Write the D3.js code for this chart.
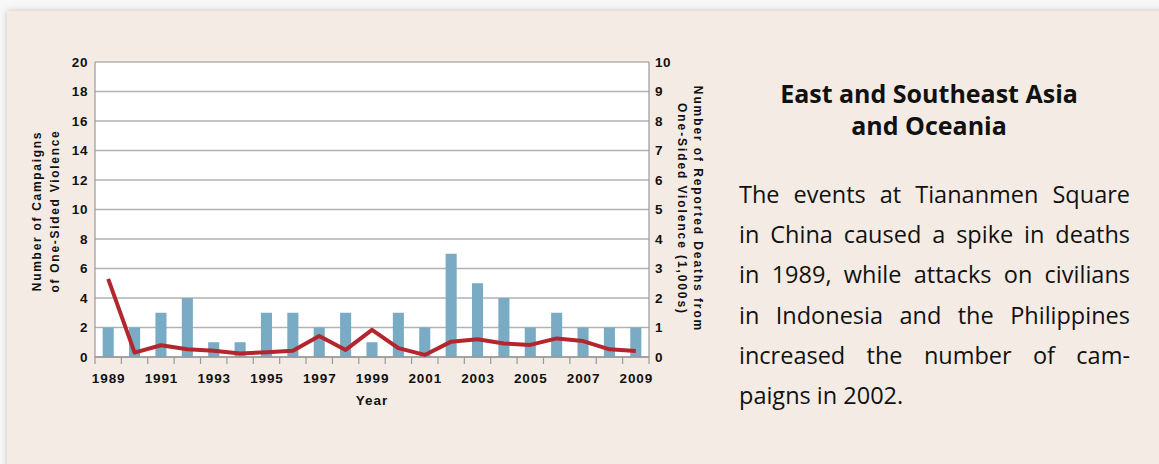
<!DOCTYPE html>
<html lang="en">
<head>
<meta charset="UTF-8">
<title>East and Southeast Asia and Oceania</title>
<script src="https://d3js.org/d3.v7.min.js"></script>
<style>
    html, body { margin: 0; padding: 0; }
    body { width: 1159px; height: 464px; background: #f7f7f7; position: relative; overflow: hidden; }
    .panel {
        position: absolute; left: 7px; top: 11px; width: 1200px; height: 500px;
        background: #f4ece4; box-shadow: 0 0 6px rgba(0,0,0,0.22);
    }
    #chart { position: absolute; left: 0; top: 0; }
    .title {
        position: absolute; left: 758px; top: 77px; width: 342px;
        font-family: "Open Sans", sans-serif; font-weight: bold; font-size: 25px;
        line-height: 32px; text-align: center; color: #111;
    }
    .body-text {
        position: absolute; left: 739px; top: 174px; width: 391px;
        font-family: "Open Sans", sans-serif; font-size: 23.5px; color: #111;
    }
    .body-text div { height: 40.2px; line-height: 40.2px; text-align: justify; text-align-last: justify; white-space: nowrap; }
    .body-text div.last { text-align: left; text-align-last: left; }
</style>
</head>
<body>
<div class="panel"></div>
<svg id="chart" width="1159" height="464"></svg>
<div class="title">East and Southeast Asia<br>and Oceania</div>
<div class="body-text" id="body-text"></div>
<script>
// data
const years = [1989, 1990, 1991, 1992, 1993, 1994, 1995, 1996, 1997, 1998, 1999,
               2000, 2001, 2002, 2003, 2004, 2005, 2006, 2007, 2008, 2009];
const campaigns = [2, 2, 3, 4, 1, 1, 3, 3, 2, 3, 1, 3, 2, 7, 5, 4, 2, 3, 2, 2, 2];
const deaths = [2.65, 0.15, 0.4, 0.26, 0.21, 0.12, 0.16, 0.21, 0.71, 0.24, 0.92,
                0.3, 0.07, 0.52, 0.6, 0.46, 0.41, 0.63, 0.54, 0.26, 0.2];
const leftTicks = [0, 2, 4, 6, 8, 10, 12, 14, 16, 18, 20];
const rightTicks = [0, 1, 2, 3, 4, 5, 6, 7, 8, 9, 10];
const yearLabels = [1989, 1991, 1993, 1995, 1997, 1999, 2001, 2003, 2005, 2007, 2009];
const bodyLines = [
    "The events at Tiananmen Square",
    "in China caused a spike in deaths",
    "in 1989, while attacks on civilians",
    "in Indonesia and the Philippines",
    "increased the number of cam-",
    "paigns in 2002."
];

const plot = { left: 95, right: 649, top: 62, bottom: 357 };
const chartFont = "'Liberation Sans', Arial, sans-serif";

const svg = d3.select("#chart");

const x = d3.scaleBand()
    .domain(years)
    .range([plot.left, plot.right])
    .padding(0);

const yLeft = d3.scaleLinear().domain([0, 20]).range([plot.bottom, plot.top]);
const yRight = d3.scaleLinear().domain([0, 10]).range([plot.bottom, plot.top]);

// plot background
svg.append("rect")
    .attr("x", plot.left).attr("y", plot.top)
    .attr("width", plot.right - plot.left).attr("height", plot.bottom - plot.top)
    .attr("fill", "#ffffff");

// gridlines
svg.append("g")
    .selectAll("line")
    .data(leftTicks)
    .enter()
    .append("line")
    .attr("x1", plot.left).attr("x2", plot.right)
    .attr("y1", d => yLeft(d)).attr("y2", d => yLeft(d))
    .attr("stroke", "#b2b2b2")
    .attr("stroke-width", 1.4);

// bars
const barW = x.bandwidth() * 0.42;
svg.append("g")
    .selectAll("rect")
    .data(years)
    .enter()
    .append("rect")
    .attr("x", d => x(d) + (x.bandwidth() - barW) / 2)
    .attr("y", (d, i) => yLeft(campaigns[i]))
    .attr("width", barW)
    .attr("height", (d, i) => plot.bottom - yLeft(campaigns[i]))
    .attr("fill", "#79abc4");

// frame lines
svg.append("line")
    .attr("x1", plot.left).attr("x2", plot.left)
    .attr("y1", plot.top).attr("y2", plot.bottom + 7)
    .attr("stroke", "#999").attr("stroke-width", 1.2);
svg.append("line")
    .attr("x1", plot.right).attr("x2", plot.right)
    .attr("y1", plot.top).attr("y2", plot.bottom + 7)
    .attr("stroke", "#999").attr("stroke-width", 1.2);
svg.append("line")
    .attr("x1", plot.left).attr("x2", plot.right)
    .attr("y1", plot.bottom).attr("y2", plot.bottom)
    .attr("stroke", "#999").attr("stroke-width", 1.4);

// bottom ticks at band edges
svg.append("g")
    .selectAll("line")
    .data(years.slice(1))
    .enter()
    .append("line")
    .attr("x1", d => x(d)).attr("x2", d => x(d))
    .attr("y1", plot.bottom).attr("y2", plot.bottom + 7)
    .attr("stroke", "#999").attr("stroke-width", 1.2);

// deaths line
const line = d3.line()
    .x((d, i) => x(years[i]) + x.bandwidth() / 2)
    .y(d => yRight(d));

svg.append("path")
    .datum(deaths)
    .attr("d", line)
    .attr("fill", "none")
    .attr("stroke", "#b3262e")
    .attr("stroke-width", 4)
    .attr("stroke-linejoin", "round");

// left axis labels
svg.append("g")
    .selectAll("text")
    .data(leftTicks)
    .enter()
    .append("text")
    .attr("x", 88)
    .attr("y", d => yLeft(d))
    .attr("dy", "0.36em")
    .attr("text-anchor", "end")
    .attr("font-family", chartFont)
    .attr("font-weight", "bold")
    .attr("font-size", 13.5)
    .attr("letter-spacing", 0.6)
    .attr("fill", "#111")
    .text(d => d);

// right axis labels
svg.append("g")
    .selectAll("text")
    .data(rightTicks)
    .enter()
    .append("text")
    .attr("x", 655)
    .attr("y", d => yRight(d))
    .attr("dy", "0.36em")
    .attr("font-family", chartFont)
    .attr("font-weight", "bold")
    .attr("font-size", 13.5)
    .attr("letter-spacing", 0.6)
    .attr("fill", "#111")
    .text(d => d);

// year labels
svg.append("g")
    .selectAll("text")
    .data(yearLabels)
    .enter()
    .append("text")
    .attr("x", d => x(d) + x.bandwidth() / 2 + 0.5)
    .attr("y", 383)
    .attr("text-anchor", "middle")
    .attr("font-family", chartFont)
    .attr("font-weight", "bold")
    .attr("font-size", 13.5)
    .attr("letter-spacing", 0.9)
    .attr("fill", "#111")
    .text(d => d);

// axis titles
svg.append("text")
    .attr("x", (plot.left + plot.right) / 2)
    .attr("y", 405)
    .attr("text-anchor", "middle")
    .attr("font-family", chartFont)
    .attr("font-weight", "bold")
    .attr("font-size", 13.5)
    .attr("letter-spacing", 1)
    .attr("fill", "#111")
    .text("Year");

const leftTitle = svg.append("text")
    .attr("transform", "translate(41,211) rotate(-90)")
    .attr("text-anchor", "middle")
    .attr("font-family", chartFont)
    .attr("font-weight", "bold")
    .attr("font-size", 12)
    .attr("letter-spacing", 1.7)
    .attr("fill", "#111");
leftTitle.append("tspan").attr("x", 0).attr("y", 0).text("Number of Campaigns");
leftTitle.append("tspan").attr("x", 0).attr("y", 18).text("of One-Sided Violence");

const rightTitle = svg.append("text")
    .attr("transform", "translate(694,209) rotate(90)")
    .attr("text-anchor", "middle")
    .attr("font-family", chartFont)
    .attr("font-weight", "bold")
    .attr("font-size", 12)
    .attr("letter-spacing", 1.9)
    .attr("fill", "#111");
rightTitle.append("tspan").attr("x", 0).attr("y", 0).text("Number of Reported Deaths from");
rightTitle.append("tspan").attr("x", 0).attr("y", 16).text("One-Sided Violence (1,000s)");

// body text, one justified line each
d3.select("#body-text")
    .selectAll("div")
    .data(bodyLines)
    .enter()
    .append("div")
    .attr("class", (d, i) => i === bodyLines.length - 1 ? "last" : null)
    .text(d => d);
</script>
</body>
</html>
